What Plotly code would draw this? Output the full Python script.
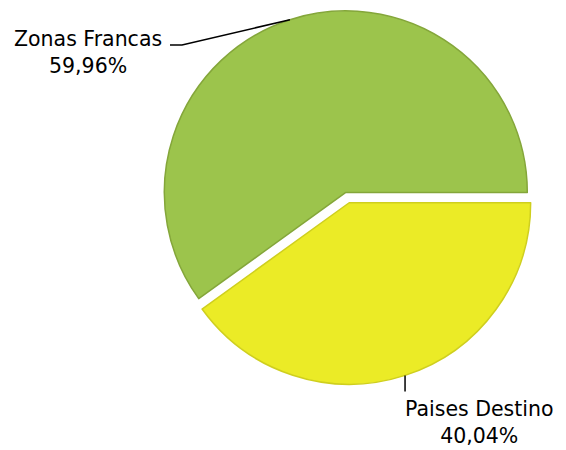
import math
import plotly.graph_objects as go

labels = ["Paises Destino", "Zonas Francas"]
values = [40.04, 59.96]
colors = ["#EBEB26", "#9CC44C"]
line_colors = ["#CFCF1E", "#84A63A"]
pulls = [0.06, 0]

W, H = 566, 450
dom_x = [0.27, 0.952]
dom_y = [0.145, 1.0]

fig = go.Figure(go.Pie(
    labels=labels, values=values, sort=False,
    direction="clockwise", rotation=90,
    pull=pulls, textinfo="none", hoverinfo="label+percent",
    marker=dict(colors=colors, line=dict(color=line_colors, width=1.5)),
    domain=dict(x=dom_x, y=dom_y), showlegend=False,
))

# geometry of the pie (same rules plotly uses) to anchor the leader lines
bw = (dom_x[1] - dom_x[0]) * W
bh = (dom_y[1] - dom_y[0]) * H
r = min(bw, bh) / (2 + 2 * max(pulls))
cx = (dom_x[0] + dom_x[1]) / 2 * W
cy = H - (dom_y[0] + dom_y[1]) / 2 * H
total = sum(values)
anchors = {}
start = 0.0
for lab, v, p in zip(labels, values, pulls):
    mid = -(start + v / 2) / total * 360
    start += v
    a = math.radians(mid)
    anchors[lab] = (cx + r * (1 + p) * math.cos(a), cy - r * (1 + p) * math.sin(a))

def px(x):
    return x / W

def py(y):
    return 1 - y / H

def fmt(v):
    return f"{v:.2f}".replace(".", ",") + "%"

font = dict(family="DejaVu Sans", size=20.5, color="#000000")
text_pos = {"Zonas Francas": (88, 53), "Paises Destino": (479, 422)}
for lab, v in zip(labels, values):
    tx, ty = text_pos[lab]
    fig.add_annotation(x=px(tx), y=py(ty), xref="paper", yref="paper",
                       text=f"{lab}<br>{fmt(v)}", showarrow=False, font=font,
                       align="center", xanchor="center", yanchor="middle")

gx, gy = anchors["Zonas Francas"]
yx, yy = anchors["Paises Destino"]
fig.add_shape(type="path", xref="paper", yref="paper",
              path=f"M {px(170)} {py(45)} L {px(182)} {py(45)} L {px(gx)} {py(gy)}",
              line=dict(color="#000000", width=1.5))
fig.add_shape(type="line", xref="paper", yref="paper",
              x0=px(yx), y0=py(yy), x1=px(yx), y1=py(yy + 16),
              line=dict(color="#000000", width=1.5))

fig.update_layout(width=W, height=H, margin=dict(l=0, r=0, t=0, b=0),
                  paper_bgcolor="white", plot_bgcolor="white")
fig.write_html("out.html", config={"displayModeBar": False},
               post_script="document.body.style.margin='0';document.body.style.overflow='hidden';")
